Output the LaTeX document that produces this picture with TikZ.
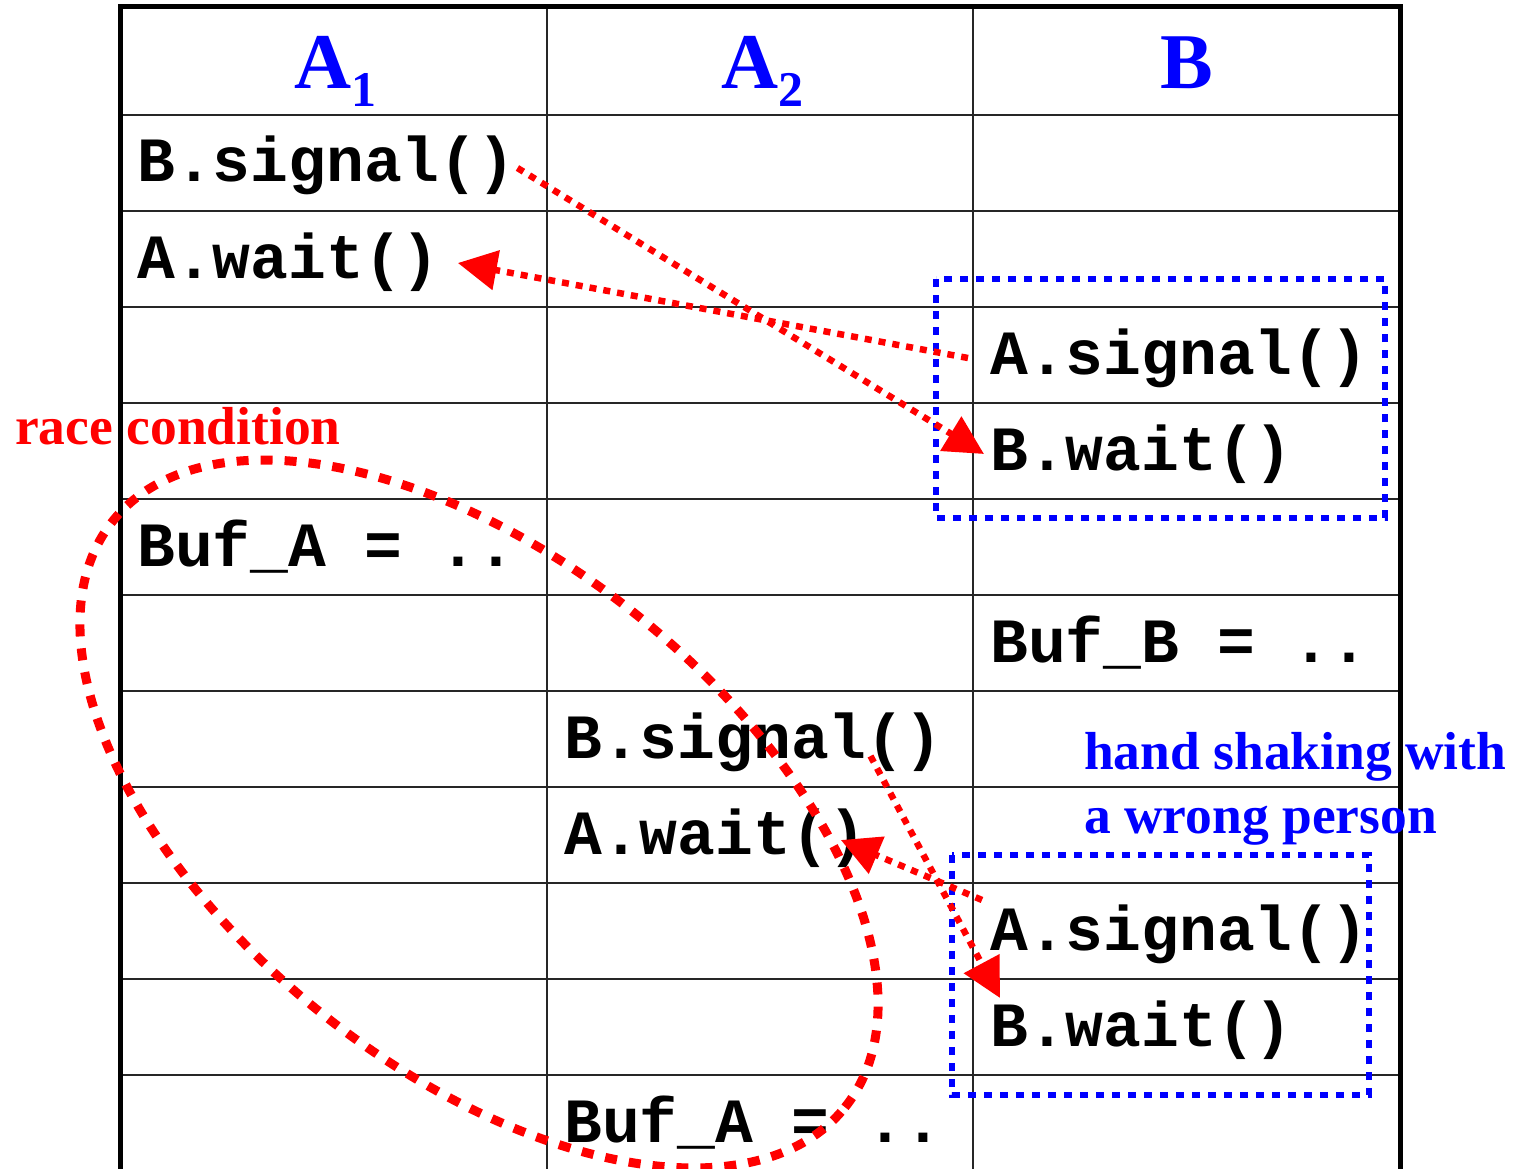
\documentclass[tikz,border=0pt]{standalone}
\usepackage{fontspec}
\setmainfont{Liberation Serif}
\newfontfamily\codefont{Liberation Mono}
\usetikzlibrary{arrows.meta,calc}
\begin{document}
\begin{tikzpicture}[x=1pt,y=-1pt,
  code/.style={anchor=base west, inner sep=0pt, font=\codefont\bfseries\fontsize{63}{63}\selectfont},
  head/.style={anchor=base west, inner sep=0pt, text=blue, font=\bfseries\fontsize{79}{79}\selectfont},
  note/.style={anchor=base west, inner sep=0pt, font=\bfseries\fontsize{53.5}{53.5}\selectfont},
  gridline/.style={line width=2.5pt, black!85},
  frameline/.style={line width=5pt, black, line join=miter},
  sig/.style={red, line width=6.5pt, dash pattern=on 7pt off 7pt, -{Triangle[length=39pt,width=39pt]}},
  hsbox/.style={blue, line width=6.5pt, dash pattern=on 8pt off 8pt},
  race/.style={red, line width=9pt, dash pattern=on 12pt off 12pt}
]
\useasboundingbox (0,0) rectangle (1513,1169);
\clip (0,0) rectangle (1513,1169);
\fill[white] (0,0) rectangle (1513,1169);
% table
\foreach \yy in {115,211,307,403,499,595,691,787,883,979,1075}
  \draw[gridline] (120,\yy) -- (1400,\yy);
\foreach \xx in {547,973}
  \draw[gridline] (\xx,7) -- (\xx,1180);
\draw[frameline] (120,1185) -- (120,7) -- (1400,7) -- (1400,1185);
% headers
\node[head] (ha1) at (294,89) {A\raisebox{-18pt}{\fontsize{50}{50}\selectfont 1}};
\node[head] (ha2) at (721,89) {A\raisebox{-18pt}{\fontsize{50}{50}\selectfont 2}};
\node[head, anchor=base] (hb) at (1187,89) {B};
% code
\node[code] (bs1) at (137,182) {B.signal()};
\node[code] (aw1) at (137,278) {A.wait()};
\node[code] (as1) at (990,374) {A.signal()};
\node[code] (bw1) at (990,470) {B.wait()};
\node[code] (bufa1) at (137,566) {Buf\_A = ..};
\node[code] (bufb) at (990,662) {Buf\_B = ..};
\node[code] (bs2) at (564,758) {B.signal()};
\node[code] (aw2) at (564,854) {A.wait()};
\node[code] (as2) at (990,950) {A.signal()};
\node[code] (bw2) at (990,1046) {B.wait()};
\node[code] (bufa2) at (564,1142) {Buf\_A = ..};
% notes
\node[note, text=red] (racelbl) at (15,444) {race condition};
\node[note, text=blue] (hs1) at (1084,769) {hand shaking with};
\node[note, text=blue] (hs2) at (1084,833) {a wrong person};
% blue boxes
\draw[hsbox] (936,279) rectangle (1385,518);
\draw[hsbox] (952,855) rectangle (1369,1095);
% race ellipse
\draw[race, rotate around={-38.7:(479,814)}] (479,814) ellipse [x radius=469pt, y radius=254pt];
% arrows
\draw[sig] ($(bs1.base east)+(2,-14)$) -- ($(bw1.base west)+(-6,-16)$);
\draw[sig] ($(as1.base west)+(-22,-16)$) -- ($(aw1.base east)+(18,-15)$);
\draw[sig] ($(as2.base west)+(-8,-50)$) -- ($(aw2.base east)+(-26,-14)$);
\draw[sig] ($(bs2.base east)+(-72,-2)$) -- ($(bw2.base west)+(10,-48)$);
\end{tikzpicture}
\end{document}
